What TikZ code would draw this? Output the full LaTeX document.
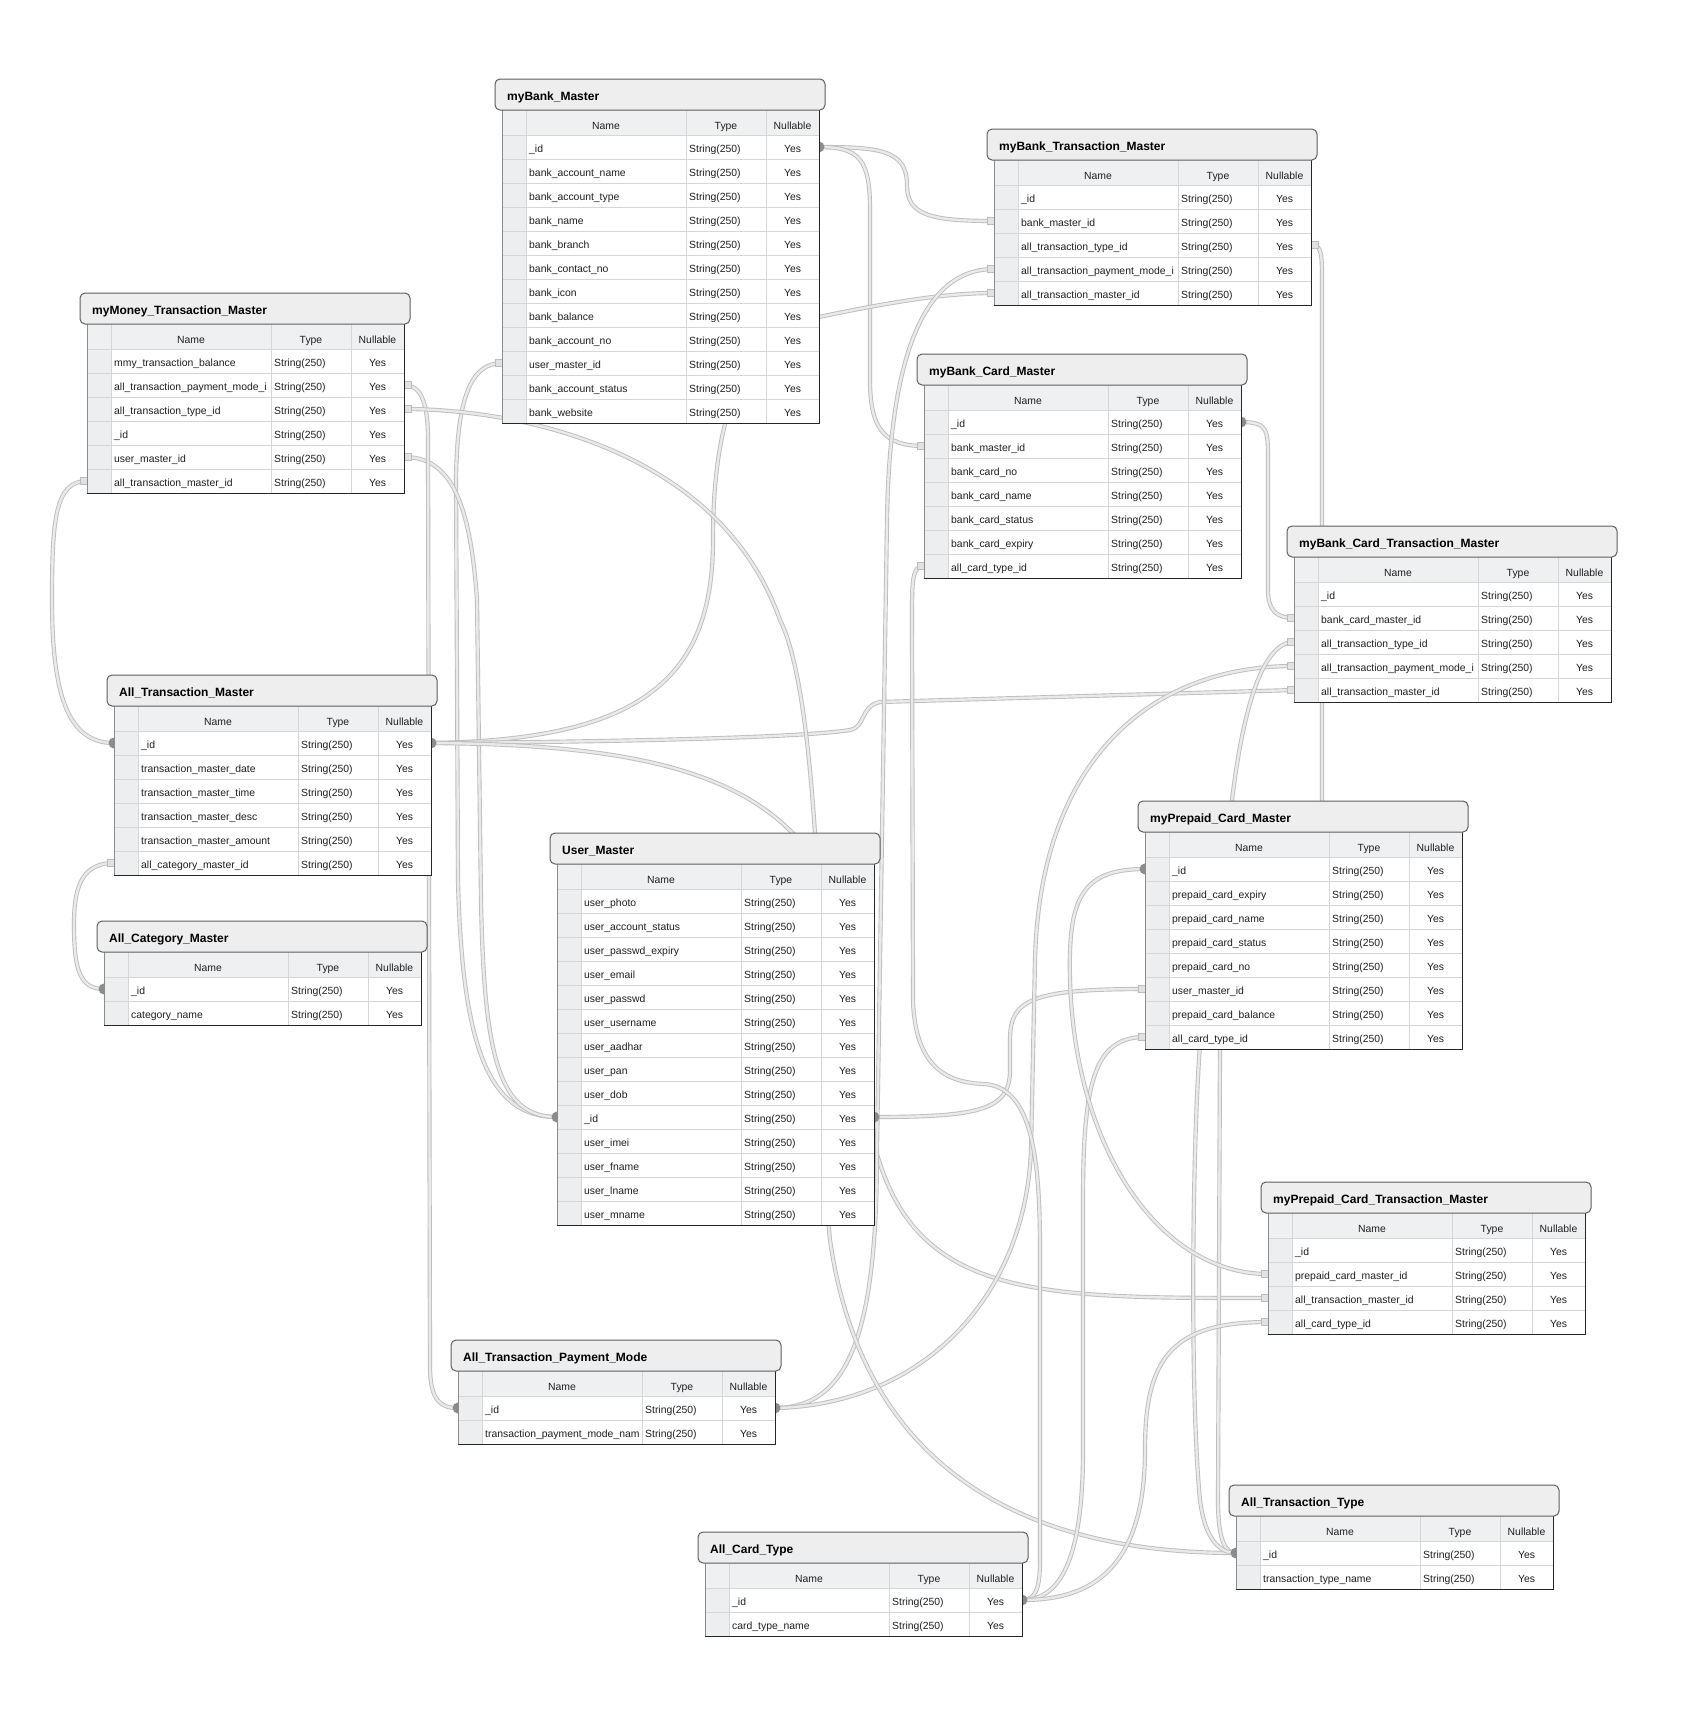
\documentclass[tikz,border=0pt]{standalone}
\usepackage{fontspec}
\setmainfont{Liberation Sans}
\usetikzlibrary{calc}
\pgfdeclarelayer{links}
\pgfsetlayers{links,main}

\definecolor{titlefill}{HTML}{EEEEEE}
\definecolor{titleline}{HTML}{5E5E5E}
\definecolor{headfill}{HTML}{EEF0F2}
\definecolor{gutterfill}{HTML}{EDEEF0}
\definecolor{gridline}{HTML}{D6D6D6}
\definecolor{linkedge}{HTML}{BDBDBD}
\definecolor{linkfill}{HTML}{E9E9E9}
\definecolor{pkfill}{HTML}{8C8C8C}
\definecolor{fkfill}{HTML}{E2E2E2}

\tikzset{
  cell/.style={inner sep=0pt, text=black!88, font=\fontsize{10.4}{12}\selectfont},
  tabletitle/.style={inner sep=0pt, font=\bfseries\fontsize{12}{14}\selectfont},
  titlebox/.style={fill=titlefill, draw=titleline, line width=1pt, rounded corners=5pt},
  grid/.style={draw=gridline, line width=0.8pt},
  link/.style={draw=linkedge, double=linkfill, double distance=2.4pt, line width=0.9pt, line join=round},
  pkdot/.style={fill=pkfill},
  fkstub/.style={fill=fkfill, draw=linkedge, line width=0.6pt},
}

%% one table: id, corner, title, fields
\newcommand{\ertable}[4]{%
  \begin{scope}[shift={#2}]
    \fill[headfill] (0,31) rectangle (317,56);
    \node[cell,anchor=base] at (104,50) {Name};
    \node[cell,anchor=base] at (224,50) {Type};
    \node[cell,anchor=base] at (290.5,50) {Nullable};
    \foreach \fld [count=\i] in {#4} {
      \pgfmathsetmacro\rt{32+24*\i}
      \fill[white] (24,\rt) rectangle (317,{\rt+24});
      \fill[gutterfill] (0,\rt) rectangle (24,{\rt+24});
      \draw[grid] (0,\rt) -- (317,\rt);
      \begin{scope}
        \clip (24,\rt) rectangle (184,{\rt+24});
        \node[cell,anchor=base west] (#1-\i) at (27,{\rt+17}) {\fld};
      \end{scope}
      \node[cell,anchor=base west] at (187,{\rt+17}) {String(250)};
      \node[cell,anchor=base] at (290.5,{\rt+17}) {Yes};
      \coordinate (#1-\i-w) at (0,{\rt+12});
      \coordinate (#1-\i-e) at (317,{\rt+12});
      \xdef\lastrow{\rt}
    }
    \pgfmathsetmacro\bot{\lastrow+24}
    \draw[grid] (24,31) -- (24,\bot) (184,31) -- (184,\bot) (264,31) -- (264,\bot);
    \draw[black!45, line width=1pt] (0,31) -- (0,\bot);
    \draw[black!85, line width=1pt] (317,31) -- (317,\bot) -- (0,\bot);
    \draw[titlebox] (-7,0) rectangle (323,31);
    \node[tabletitle,anchor=base west] (#1) at (5,21.5) {#3};
  \end{scope}
}

\begin{document}
\begin{tikzpicture}[x=1pt,y=-1pt]
  \useasboundingbox (0,0) rectangle (1698,1722);

  %% Tables
  \ertable{bm}{(502,79)}{myBank\_Master}{\_id, bank\_account\_name, bank\_account\_type, bank\_name, bank\_branch, bank\_contact\_no, bank\_icon, bank\_balance, bank\_account\_no, user\_master\_id, bank\_account\_status, bank\_website}
  \ertable{bt}{(994,129)}{myBank\_Transaction\_Master}{\_id, bank\_master\_id, all\_transaction\_type\_id, all\_transaction\_payment\_mode\_i, all\_transaction\_master\_id}
  \ertable{mm}{(87,293)}{myMoney\_Transaction\_Master}{mmy\_transaction\_balance, all\_transaction\_payment\_mode\_i, all\_transaction\_type\_id, \_id, user\_master\_id, all\_transaction\_master\_id}
  \ertable{bc}{(924,354)}{myBank\_Card\_Master}{\_id, bank\_master\_id, bank\_card\_no, bank\_card\_name, bank\_card\_status, bank\_card\_expiry, all\_card\_type\_id}
  \ertable{bct}{(1294,526)}{myBank\_Card\_Transaction\_Master}{\_id, bank\_card\_master\_id, all\_transaction\_type\_id, all\_transaction\_payment\_mode\_i, all\_transaction\_master\_id}
  \ertable{atm}{(114,675)}{All\_Transaction\_Master}{\_id, transaction\_master\_date, transaction\_master\_time, transaction\_master\_desc, transaction\_master\_amount, all\_category\_master\_id}
  \ertable{ac}{(104,921)}{All\_Category\_Master}{\_id, category\_name}
  \ertable{um}{(557,833)}{User\_Master}{user\_photo, user\_account\_status, user\_passwd\_expiry, user\_email, user\_passwd, user\_username, user\_aadhar, user\_pan, user\_dob, \_id, user\_imei, user\_fname, user\_lname, user\_mname}
  \ertable{pc}{(1145,801)}{myPrepaid\_Card\_Master}{\_id, prepaid\_card\_expiry, prepaid\_card\_name, prepaid\_card\_status, prepaid\_card\_no, user\_master\_id, prepaid\_card\_balance, all\_card\_type\_id}
  \ertable{pt}{(1268,1182)}{myPrepaid\_Card\_Transaction\_Master}{\_id, prepaid\_card\_master\_id, all\_transaction\_master\_id, all\_card\_type\_id}
  \ertable{pm}{(458,1340)}{All\_Transaction\_Payment\_Mode}{\_id, transaction\_payment\_mode\_nam}
  \ertable{ct}{(705,1532)}{All\_Card\_Type}{\_id, card\_type\_name}
  \ertable{tt}{(1236,1485)}{All\_Transaction\_Type}{\_id, transaction\_type\_name}

  \begin{pgfonlayer}{links}
    \fill[white] (0,0) rectangle (1698,1722);
    %% myBank_Master links
    \draw[link] (bm-1-e) .. controls (880,147) and (907,150) .. (907,185) .. controls (907,215) and (930,221) .. (bt-2-w);
    \draw[link] (bm-1-e) .. controls (860,147) and (870,160) .. (870,210) -- (870,380) .. controls (870,430) and (885,446) .. (bc-2-w);
    %% User_Master links
    \draw[link] (bm-10-w) .. controls (470,363) and (457,400) .. (456,480) -- (458,880) .. controls (462,1050) and (490,1117) .. (um-10-w);
    \draw[link] (mm-5-e) .. controls (450,457) and (470,500) .. (477,600) -- (481,900) .. controls (484,1060) and (500,1117) .. (um-10-w);
    \draw[link] (um-10-e) .. controls (980,1117) and (1010,1110) .. (1010,1070) -- (1010,1040) .. controls (1010,1000) and (1030,989) .. (pc-6-w);
    %% All_Transaction_Master links
    \draw[link] (mm-6-w) .. controls (55,481) and (52,520) .. (52,600) .. controls (52,700) and (70,743) .. (atm-1-w);
    \draw[link] (atm-1-e) .. controls (640,740) and (713,680) .. (713,540) .. controls (713,420) and (740,335) .. (819,317) .. controls (900,300) and (950,293) .. (bt-5-w);
    \draw[link] (atm-1-e) .. controls (600,742) and (800,738) .. (850,730) .. controls (866,727) and (860,706) .. (880,702) -- (bct-5-w);
    \draw[link] (atm-1-e) .. controls (700,745) and (840,790) .. (860,1000) .. controls (860,1300) and (980,1298) .. (pt-3-w);
    \draw[link] (atm-6-w) .. controls (80,863) and (74,890) .. (74,925) .. controls (74,970) and (80,989) .. (ac-1-w);
    %% All_Transaction_Payment_Mode links
    \draw[link] (mm-2-e) .. controls (420,385) and (428,400) .. (428,440) -- (430,1370) .. controls (431,1400) and (440,1408) .. (pm-1-w);
    \draw[link] (pm-1-e) .. controls (850,1408) and (877,1330) .. (877,1150) -- (887,520) .. controls (890,330) and (935,269) .. (bt-4-w);
    \draw[link] (bct-4-w) .. controls (1150,666) and (1040,760) .. (1035,960) -- (1031,1150) .. controls (1025,1300) and (920,1405) .. (pm-1-e);
    %% All_Transaction_Type links
    \draw[link] (mm-3-e) .. controls (520,409) and (720,450) .. (780,620) .. controls (830,720) and (820,1150) .. (830,1240) .. controls (860,1450) and (1000,1553) .. (tt-1-w);
    \draw[link] (bt-3-e) .. controls (1320,245) and (1322,250) .. (1322,275) -- (1322,805) -- (1220,1045) -- (1218,1500) .. controls (1218,1540) and (1225,1553) .. (tt-1-w);
    \draw[link] (bct-3-w) .. controls (1262,642) and (1243,710) .. (1232,800) -- (1200,1045) .. controls (1192,1150) and (1190,1400) .. (1200,1500) .. controls (1205,1540) and (1220,1553) .. (tt-1-w);
    %% All_Card_Type links
    \draw[link] (bc-7-w) .. controls (912,566) and (912,580) .. (912,620) -- (913,1000) .. controls (915,1070) and (950,1083) .. (985,1084) .. controls (1030,1088) and (1040,1150) .. (1040,1250) -- (1040,1560) .. controls (1040,1590) and (1035,1600) .. (ct-1-e);
    \draw[link] (pc-8-w) .. controls (1095,1037) and (1083,1080) .. (1083,1200) -- (1083,1450) .. controls (1083,1560) and (1060,1600) .. (ct-1-e);
    \draw[link] (pt-4-w) .. controls (1170,1322) and (1145,1360) .. (1145,1450) .. controls (1145,1580) and (1080,1600) .. (ct-1-e);
    %% card masters
    \draw[link] (bc-1-e) .. controls (1268,422) and (1268,430) .. (1268,460) -- (1268,590) .. controls (1268,612) and (1278,618) .. (bct-2-w);
    \draw[link] (pc-1-w) .. controls (1080,869) and (1068,900) .. (1070,980) .. controls (1075,1150) and (1160,1274) .. (pt-2-w);

    %% keys
    \foreach \k in {bm-1-e, atm-1-w, atm-1-e, ac-1-w, um-10-w, um-10-e, bc-1-e, pc-1-w, pm-1-w, pm-1-e, ct-1-e, tt-1-w}
      \fill[pkdot] (\k) circle (5.5pt);
    \foreach \k in {bt-3-e, mm-2-e, mm-3-e, mm-5-e}
      \filldraw[fkstub] ($(\k)+(0,-3.5)$) rectangle ++(7,7);
    \foreach \k in {bt-2-w, bt-4-w, bt-5-w, mm-6-w, bm-10-w, bc-2-w, bc-7-w, bct-2-w, bct-3-w, bct-4-w, bct-5-w, atm-6-w, pc-6-w, pc-8-w, pt-2-w, pt-3-w, pt-4-w}
      \filldraw[fkstub] ($(\k)+(-7,-3.5)$) rectangle ++(7,7);
  \end{pgfonlayer}
\end{tikzpicture}
\end{document}
